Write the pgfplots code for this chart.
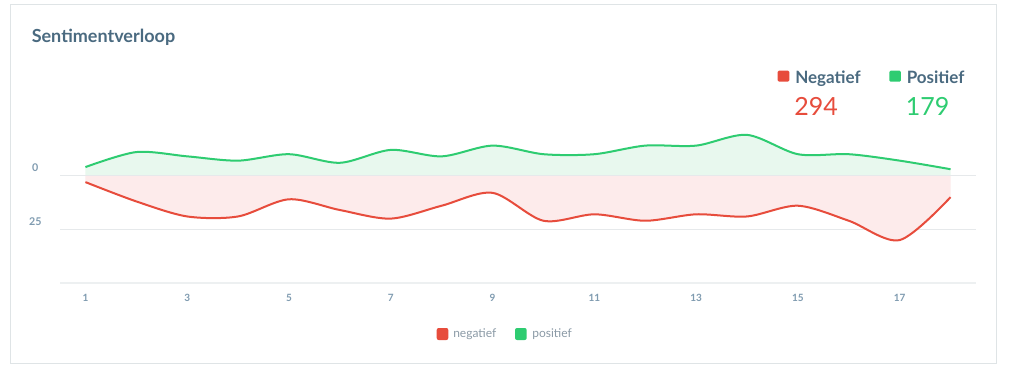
\documentclass[border=0pt]{standalone}
\usepackage{pgfplots}
\pgfplotsset{compat=1.18}
\usepackage{fontspec}
\setmainfont{Lato}
\definecolor{negc}{HTML}{E74C3C}
\definecolor{posc}{HTML}{2ECC71}
\definecolor{negfill}{HTML}{FDEBEB}
\definecolor{posfill}{HTML}{E8F8EE}
\definecolor{titlec}{HTML}{4A6A80}
\definecolor{tickc}{HTML}{7F9BB0}
\definecolor{legc}{HTML}{8B9AA6}
\definecolor{gridc}{HTML}{E6E9EB}
\definecolor{borderc}{HTML}{DFE4E6}
\begin{document}
\begin{tikzpicture}[x=0.75pt,y=0.75pt]
\useasboundingbox (0,0) rectangle (1024,368);
\fill[white] (0,0) rectangle (1024,368);
\draw[borderc, line width=0.75pt] (10,5) rectangle (996,363);
\node[anchor=base west, inner sep=0, font=\fontsize{13.5pt}{15pt}\selectfont\bfseries, text=titlec] at (31.5,325.3) {Sentimentverloop};
% top right summary
\fill[negc, rounded corners=1pt] (777.7,286.3) rectangle (789.3,297.3);
\node[anchor=base west, inner sep=0, font=\fontsize{12.75pt}{14pt}\selectfont\bfseries, text=titlec] at (795,284.7) {Negatief};
\node[anchor=base, inner sep=0, font=\fontsize{18.75pt}{20pt}\selectfont, text=negc] at (816,252.3) {294};
\fill[posc, rounded corners=1pt] (889.3,286.3) rectangle (900.9,297.3);
\node[anchor=base west, inner sep=0, font=\fontsize{12.75pt}{14pt}\selectfont\bfseries, text=titlec] at (906.5,284.7) {Positief};
\node[anchor=base, inner sep=0, font=\fontsize{18.75pt}{20pt}\selectfont, text=posc] at (927.5,252.3) {179};
% bottom legend
\fill[negc, rounded corners=1.5pt] (436.7,28) rectangle (448.3,40);
\node[anchor=west, inner sep=0, font=\fontsize{9pt}{10pt}\selectfont, text=legc] at (453,34) {negatief};
\fill[posc, rounded corners=1.5pt] (515,28) rectangle (526.7,40);
\node[anchor=west, inner sep=0, font=\fontsize{9pt}{10pt}\selectfont, text=legc] at (532,34) {positief};
\begin{axis}[
  at={(45pt,63.75pt)}, anchor=south west,
  scale only axis, width=687pt, height=120.75pt,
  xmin=0.5, xmax=18.5, ymin=-50, ymax=25,
  axis line style={draw=none},
  tick style={draw=none},
  xtick={1,3,...,17},
  ytick={-50,-25,0},
  yticklabels={,25,0},
  ymajorgrids,
  grid style={line width=0.75pt, color=gridc},
  /pgf/number format/assume math mode=true,
  xticklabel style={anchor=center, yshift=-11.25pt, font=\fontsize{7.5pt}{8pt}\selectfont\bfseries, text=tickc},
  yticklabel style={anchor=center, xshift=-18.5pt, yshift=6pt, font=\fontsize{8pt}{9pt}\selectfont\bfseries, text=tickc},
  clip=false,
]
\addplot[draw=none, fill=posfill, smooth, tension=0.5] coordinates {
(1,4) (2,11) (3,9) (4,7) (5,10) (6,6) (7,12) (8,9) (9,14) (10,10) (11,10) (12,14) (13,14) (14,19) (15,10) (16,10) (17,7) (18,3)} \closedcycle;
\addplot[draw=none, fill=negfill, smooth, tension=0.5] coordinates {
(1,-3) (2,-12) (3,-19) (4,-19) (5,-11) (6,-16) (7,-20) (8,-14) (9,-8) (10,-21) (11,-18) (12,-21) (13,-18) (14,-19) (15,-14) (16,-21) (17,-30) (18,-10)} \closedcycle;
\draw[gridc, line width=0.75pt] (axis cs:0.5,0) -- (axis cs:18.5,0);
\draw[gridc!70!white, line width=1.8pt] (axis cs:0.5,-50) -- (axis cs:18.5,-50);
\addplot[posc, line width=1.5pt, smooth, tension=0.5] coordinates {
(1,4) (2,11) (3,9) (4,7) (5,10) (6,6) (7,12) (8,9) (9,14) (10,10) (11,10) (12,14) (13,14) (14,19) (15,10) (16,10) (17,7) (18,3)};
\addplot[negc, line width=1.5pt, smooth, tension=0.5] coordinates {
(1,-3) (2,-12) (3,-19) (4,-19) (5,-11) (6,-16) (7,-20) (8,-14) (9,-8) (10,-21) (11,-18) (12,-21) (13,-18) (14,-19) (15,-14) (16,-21) (17,-30) (18,-10)};
\end{axis}
\end{tikzpicture}
\end{document}
